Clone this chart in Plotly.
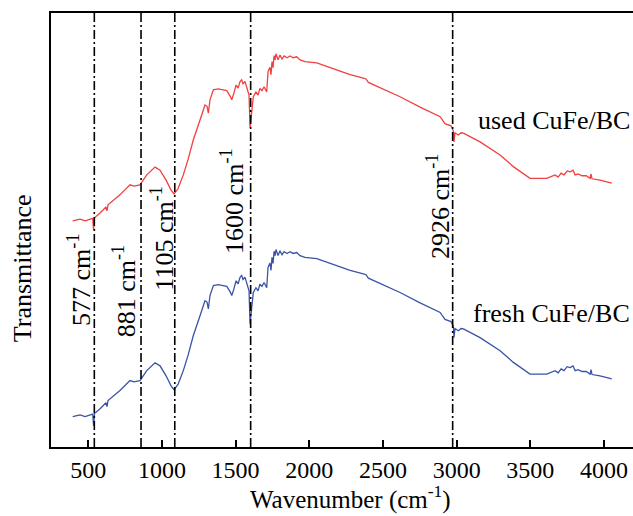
import plotly.graph_objects as go

# Wavenumber sample points (cm^-1)
wavenumber = [394,444,478,512,530,536,542,580,620,627,
              634,715,783,810,851,897,953,987,1028,1062,
              1082,1109,1145,1177,1213,1259,1292,1306,1315,1326,
              1349,1381,1408,1440,1462,1474,1489,1503,1517,1530,
              1541,1550,1564,1577,1591,1598,1608,1620,1638,1652,
              1665,1679,1693,1711,1720,1733,1740,1747,1754,1761,
              1768,1774,1788,1801,1815,1829,1849,1869,1890,1915,
              1937,1971,2051,2141,2277,2367,2385,2401,2481,2616,
              2752,2888,2921,2962,2978,2982,2989,3012,3030,3046,
              3159,3295,3385,3464,3498,3612,3634,3668,3689,3709,
              3729,3750,3770,3790,3804,3824,3851,3879,3906,3912,
              3919,3973,4053]

# used CuFe/BC (offset arbitrary transmittance units)
used = [52.1,52.5,52.1,52.5,52.7,50.0,52.8,53.9,55.3,54.4,
        55.8,58.1,60.4,60.1,60.4,62.7,64.5,63.8,61.5,59.2,
        58.3,59.5,62.7,66.2,70.8,75.4,78.8,78.5,76.9,80.0,
        82.3,82.5,82.3,82.1,80.9,80.0,81.6,83.4,82.7,84.2,
        84.6,83.7,84.2,82.7,81.1,73.5,77.7,80.7,81.8,81.1,
        82.6,82.1,83.0,81.8,86.5,87.5,85.8,88.8,87.4,90.2,
        89.2,90.6,89.2,90.3,89.4,90.1,89.7,90.1,89.7,89.9,
        89.2,88.8,88.5,87.4,85.8,85.0,84.8,84.0,82.8,80.7,
        78.3,76.1,74.5,74.0,72.8,70.3,72.4,71.9,72.4,72.3,
        70.3,67.3,64.6,62.7,61.9,61.9,62.2,62.7,62.2,63.1,
        62.7,63.6,63.4,63.8,62.7,62.9,62.5,62.5,61.9,62.9,
        61.8,61.5,60.8]

# fresh CuFe/BC
fresh = [7.0,7.4,7.0,7.4,7.6,4.9,7.7,8.8,10.2,9.3,
         10.7,13.0,15.3,15.0,15.3,17.6,19.4,18.7,16.4,14.1,
         13.2,14.4,17.6,21.1,25.7,30.3,33.7,33.4,31.8,34.9,
         37.2,37.4,37.2,37.0,35.8,34.9,36.5,38.3,37.6,39.1,
         39.5,38.6,39.1,37.6,36.0,28.4,32.6,35.6,36.7,36.0,
         37.5,37.0,37.9,36.7,41.4,42.4,40.7,43.7,42.3,45.1,
         44.1,45.5,44.1,45.2,44.3,45.0,44.6,45.0,44.6,44.8,
         44.1,43.7,43.4,42.3,40.7,39.9,39.7,38.9,37.7,35.6,
         33.2,31.0,29.4,28.9,27.7,25.2,27.3,26.8,27.3,27.2,
         25.2,22.2,19.5,17.6,16.8,16.8,17.1,17.6,17.1,18.0,
         17.6,18.5,18.3,18.7,17.6,17.8,17.4,17.4,16.8,17.8,
         16.7,16.4,15.7]

# Reference band lines (drawn positions) and their labels
band_positions = [541, 858, 1087, 1602, 2973]
band_labels = ["577", "881", "1105", "1600", "2926"]

x_ticks = [500, 1000, 1500, 2000, 2500, 3000, 3500, 4000]

FONT = "Liberation Serif, Times New Roman, serif"
FS_TICK = 24
FS_LAB = 26

fig = go.Figure()
fig.add_trace(go.Scatter(x=wavenumber, y=used, mode="lines",
                         line=dict(color="#F0403F", width=1.3), showlegend=False))
fig.add_trace(go.Scatter(x=wavenumber, y=fresh, mode="lines",
                         line=dict(color="#3A53A8", width=1.3), showlegend=False))

for xp in band_positions:
    fig.add_shape(type="line", xref="x", yref="paper", x0=xp, x1=xp, y0=0, y1=1,
                  line=dict(color="black", width=1.6, dash="9px,3px,2px,3px"))

# label centres (data coords)
label_xy = [(444, 38.5), (743, 35.9), (1004, 47.9), (1482, 56.7), (2874, 55.3)]
for lab, (lx, ly) in zip(band_labels, label_xy):
    fig.add_annotation(x=lx, y=ly, xref="x", yref="y", text=f"{lab} cm<sup>-1</sup>",
                       textangle=-90, showarrow=False,
                       font=dict(family=FONT, size=FS_LAB, color="black"),
                       xanchor="center", yanchor="middle")

fig.add_annotation(x=0.999, y=0.7515, xref="paper", yref="paper", text="used CuFe/BC",
                   showarrow=False, xanchor="right", yanchor="middle",
                   font=dict(family=FONT, size=FS_LAB, color="black"))
fig.add_annotation(x=0.999, y=0.3085, xref="paper", yref="paper", text="fresh CuFe/BC",
                   showarrow=False, xanchor="right", yanchor="middle",
                   font=dict(family=FONT, size=FS_LAB, color="black"))

fig.add_annotation(x=0.515, y=-0.116, xref="paper", yref="paper",
                   text="Wavenumber (cm<sup>-1</sup>)", showarrow=False,
                   xanchor="center", yanchor="middle",
                   font=dict(family=FONT, size=25, color="black"))
fig.add_annotation(x=-0.0498, y=0.412, xref="paper", yref="paper",
                   text="Transmittance", textangle=-90, showarrow=False,
                   xanchor="center", yanchor="middle",
                   font=dict(family=FONT, size=FS_LAB, color="black"))

fig.update_layout(
    width=633, height=516,
    margin=dict(l=51, r=0, t=13, b=69),
    paper_bgcolor="white", plot_bgcolor="white",
    font=dict(family=FONT, size=FS_TICK, color="black"),
    showlegend=False,
)
fig.update_xaxes(range=[247, 4197], tickvals=x_ticks, ticks="inside", ticklen=7,
                 tickwidth=2, tickcolor="black", showline=True, linewidth=2,
                 linecolor="black", mirror=True, showgrid=False, zeroline=False,
                 tickfont=dict(family=FONT, size=FS_TICK, color="black"))
fig.update_yaxes(range=[0, 100], showticklabels=False, ticks="", showline=True,
                 linewidth=2, linecolor="black", mirror=False, showgrid=False,
                 zeroline=False)

fig.write_html("out.html")
